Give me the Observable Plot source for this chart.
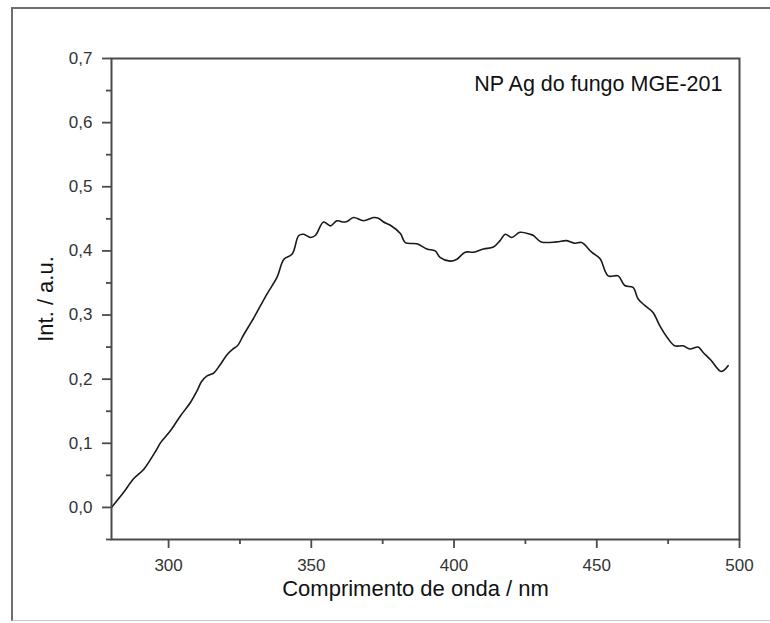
<!DOCTYPE html>
<html><head><meta charset="utf-8">
<script src="https://cdn.jsdelivr.net/npm/d3@7"></script>
<script src="https://cdn.jsdelivr.net/npm/@observablehq/plot@0.6"></script>
<style>
html,body{margin:0;padding:0;background:#fff;}
#wrap{position:relative;width:770px;height:623px;overflow:hidden;background:#fff;}
#border{position:absolute;left:11px;top:7px;width:800px;height:611px;border-left:2px solid #6e6e6e;border-top:2px solid #6e6e6e;border-bottom:1px solid #c8c8c8;}
#chart{position:absolute;left:0;top:0;}
</style>
</head><body>
<div id="wrap"><div id="border"></div><div id="chart"></div></div>
<script>
const wavelength = [280, 284, 287.8, 291.4, 295.5, 297.2, 300.7, 304.2, 307.7, 310, 311.5, 313.5, 315.9, 318, 320.6, 322.5, 324.1, 326.4, 329.9, 334.5, 338, 340.4, 343.3, 345.6, 347.3, 349.7, 351.4, 354.3, 356.7, 359, 361.3, 362.5, 364.8, 368.3, 371.8, 373.5, 375.3, 377.7, 381.2, 382.9, 387, 390.5, 393.4, 395.1, 398.6, 401, 403.9, 406.8, 410.3, 413.8, 416.1, 417.9, 420.2, 423.1, 426.6, 427.8, 430.5, 435.9, 439.4, 442.3, 444.7, 448.2, 451.1, 454, 457.5, 459.8, 462.7, 464.5, 466.8, 469.7, 472.1, 475, 477.3, 480.2, 482.6, 485.5, 487.2, 490.1, 493.6, 496];
const intensity = [0.0, 0.022, 0.045, 0.060, 0.088, 0.101, 0.120, 0.143, 0.164, 0.182, 0.196, 0.205, 0.210, 0.222, 0.239, 0.247, 0.252, 0.270, 0.296, 0.333, 0.359, 0.387, 0.395, 0.424, 0.426, 0.421, 0.424, 0.445, 0.439, 0.447, 0.445, 0.446, 0.452, 0.447, 0.452, 0.451, 0.445, 0.440, 0.427, 0.413, 0.411, 0.403, 0.400, 0.390, 0.384, 0.387, 0.398, 0.398, 0.403, 0.406, 0.416, 0.426, 0.421, 0.429, 0.426, 0.424, 0.414, 0.414, 0.416, 0.412, 0.413, 0.398, 0.388, 0.361, 0.361, 0.346, 0.343, 0.325, 0.315, 0.304, 0.283, 0.263, 0.252, 0.252, 0.247, 0.250, 0.242, 0.229, 0.212, 0.221];
const xMajorTicks = [300, 350, 400, 450, 500];
const xMinorTicks = [325, 375, 425, 475];
const yMajorTicks = [0, 0.1, 0.2, 0.3, 0.4, 0.5, 0.6, 0.7];
const yMinorTicks = [-0.05, 0.05, 0.15, 0.25, 0.35, 0.45, 0.55, 0.65];
const xTitle = "Comprimento de onda / nm";
const yTitle = "Int. / a.u.";
const seriesName = "NP Ag do fungo MGE-201";

const data = wavelength.map((w, i) => ({w, v: intensity[i]}));
const fmt = d => d.toFixed(1).replace(".", ",");
const axisColor = "#4a4a4a";

const chart = Plot.plot({
  width: 770,
  height: 623,
  marginLeft: 111,
  marginRight: 31,
  marginTop: 58,
  marginBottom: 84,
  style: {fontFamily: "'Liberation Sans', Arial, sans-serif", background: "transparent", color: "#222"},
  x: {domain: [280, 500]},
  y: {domain: [-0.05, 0.7]},
  marks: [
    Plot.line(data, {x: "w", y: "v", stroke: "#1a1a1a", strokeWidth: 1.6, curve: "catmull-rom"}),
    Plot.axisX(xMajorTicks, {tickSize: 9, tickPadding: 10, fontSize: 17, stroke: axisColor, strokeWidth: 1.8, fill: "#333", label: null}),
    Plot.axisX(xMinorTicks, {tickSize: 5, tickFormat: () => "", stroke: axisColor, strokeWidth: 1.8, label: null}),
    Plot.axisY(yMajorTicks, {tickSize: 9, tickPadding: 10, fontSize: 17, stroke: axisColor, strokeWidth: 1.8, fill: "#333", tickFormat: fmt, label: null}),
    Plot.axisY(yMinorTicks, {tickSize: 5, tickFormat: () => "", stroke: axisColor, strokeWidth: 1.8, label: null}),
    Plot.frame({stroke: axisColor, strokeWidth: 2}),
    Plot.text([xTitle], {text: d => d, frameAnchor: "bottom", dx: -10, dy: 49, fontSize: 22, lineAnchor: "middle", textAnchor: "middle", fill: "#111"}),
    Plot.text([yTitle], {text: d => d, frameAnchor: "left", dx: -66, rotate: -90, fontSize: 22, lineAnchor: "middle", textAnchor: "middle", fill: "#111"}),
    Plot.text([seriesName], {text: d => d, frameAnchor: "top-right", dx: -17, dy: 26, fontSize: 21.5, lineAnchor: "middle", textAnchor: "end", fill: "#111"})
  ]
});
document.getElementById("chart").appendChild(chart);
</script>
</body></html>
